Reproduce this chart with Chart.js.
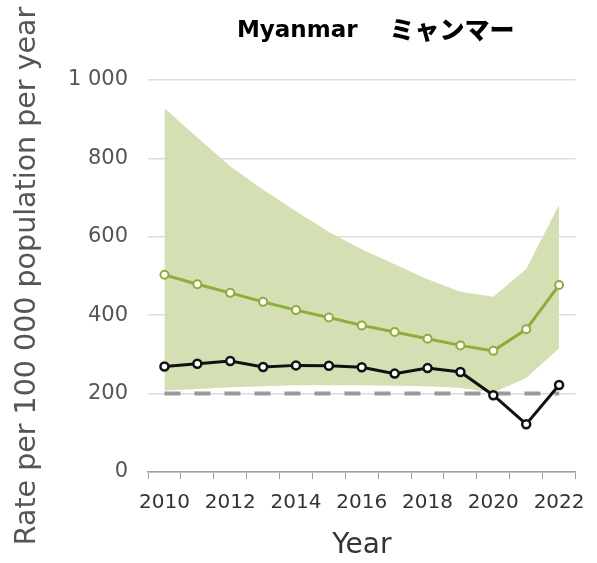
<!DOCTYPE html>
<html lang="en">
<head>
  <meta charset="UTF-8" />
  <title>Myanmar</title>
  <script src="https://cdn.jsdelivr.net/npm/chart.js"></script>
  <style>
    body {
      margin: 0;
      padding: 0;
      background: #ffffff;
    }
    #wrap {
      width: 597px;
      height: 563px;
    }
  </style>
</head>
<body>
  <div id="wrap"><canvas id="tbChart" width="597" height="563"></canvas></div>

<script>
  // data
  const years = ['2010', '2011', '2012', '2013', '2014', '2015', '2016',
                 '2017', '2018', '2019', '2020', '2021', '2022'];
  const incidence = [503, 479, 457, 434, 413, 394, 374, 357, 340, 323, 309, 364, 477];
  const incidenceHigh = [928, 853, 780, 720, 665, 612, 568, 530, 492, 460, 447, 518, 682];
  const incidenceLow = [208, 212, 216, 219, 221, 221, 221, 220, 219, 214, 203, 240, 316];
  const notified = [269, 276, 283, 268, 272, 271, 267, 251, 265, 255, 196, 122, 222];
  const referenceLevel = [200, 200, 200, 200, 200, 200, 200, 200, 200, 200, 200, 200, 200];
  const yTicks = [0, 200, 400, 600, 800, 1000];

  const titleLatin = 'Myanmar';
  const titleJapanese = 'ミャンマー';

  const green = '#8cae3c';
  const band = '#d4dfb3';
  const font = "'DejaVu Sans', 'Noto Sans', sans-serif";

  function spaced(v) {
    return String(v).replace(/\B(?=(\d{3})+(?!\d))/g, ' ');
  }

  // title drawn above the plot area
  const titlePlugin = {
    id: 'twoPartTitle',
    afterDraw(chart) {
      const c = chart.ctx;
      const area = chart.chartArea;
      c.save();
      c.fillStyle = '#000';
      c.textBaseline = 'alphabetic';
      c.font = "bold 23px 'DejaVu Sans', sans-serif";
      const w1 = c.measureText(titleLatin).width;
      c.font = "900 25px 'Noto Sans CJK JP', sans-serif";
      const w2 = c.measureText(titleJapanese).width;
      const gap = 32;
      const total = w1 + gap + w2;
      const x0 = (area.left + area.right) / 2 + 14 - total / 2;
      c.font = "bold 23px 'DejaVu Sans', sans-serif";
      c.fillText(titleLatin, x0, 37);
      c.font = "900 25px 'Noto Sans CJK JP', sans-serif";
      c.fillText(titleJapanese, x0 + w1 + gap, 39);
      c.restore();
    }
  };

  const ctx = document.getElementById('tbChart').getContext('2d');

  const chart = new Chart(ctx, {
    type: 'line',
    data: {
      labels: years,
      datasets: [{
        label: 'Notified',
        data: notified,
        borderColor: '#111111',
        borderWidth: 3,
        pointRadius: 4,
        pointBorderWidth: 2.5,
        pointBackgroundColor: '#ffffff',
        pointBorderColor: '#111111',
        fill: false
      }, {
        label: 'Incidence',
        data: incidence,
        borderColor: green,
        borderWidth: 3,
        pointRadius: 4,
        pointBorderWidth: 2,
        pointBackgroundColor: '#ffffff',
        pointBorderColor: green,
        fill: false
      }, {
        label: 'Reference',
        data: referenceLevel,
        borderColor: '#9a9a9a',
        borderWidth: 4,
        borderDash: [16, 14],
        pointRadius: 0,
        fill: false
      }, {
        label: 'High',
        data: incidenceHigh,
        borderWidth: 0,
        borderColor: 'rgba(0,0,0,0)',
        backgroundColor: band,
        pointRadius: 0,
        fill: '+1'
      }, {
        label: 'Low',
        data: incidenceLow,
        borderWidth: 0,
        borderColor: 'rgba(0,0,0,0)',
        pointRadius: 0,
        fill: false
      }]
    },
    options: {
      responsive: false,
      animation: false,
      layout: {
        padding: { top: 80, right: 12, left: 0, bottom: 0 }
      },
      plugins: {
        legend: { display: false },
        tooltip: { enabled: false },
        title: { display: false }
      },
      scales: {
        x: {
          type: 'category',
          offset: true,
          grid: {
            display: true,
            offset: true,
            drawOnChartArea: false,
            drawTicks: true,
            tickLength: 7,
            color: '#a0a0a0',
            lineWidth: 1
          },
          border: { display: true, color: '#a0a0a0', width: 1.5 },
          ticks: {
            autoSkip: false,
            maxRotation: 0,
            padding: 12,
            color: '#333333',
            font: { family: font, size: 20 },
            callback: function (val, i) {
              return i % 2 === 0 ? this.getLabelForValue(val) : '';
            }
          },
          title: {
            display: true,
            text: 'Year',
            color: '#333333',
            font: { family: font, size: 28 },
            padding: { top: 0, bottom: 0 }
          },
          afterFit: function (scale) { scale.height = 91; }
        },
        y: {
          min: 0,
          max: 1000,
          afterBuildTicks: function (scale) {
            scale.ticks = yTicks.map(v => ({ value: v }));
          },
          grid: {
            color: '#dcdcdc',
            lineWidth: 1.5,
            drawTicks: false
          },
          border: { display: false },
          ticks: {
            padding: 20,
            color: '#555555',
            font: { family: font, size: 21 },
            callback: v => spaced(v)
          },
          title: {
            display: true,
            text: 'Rate per 100 000 population per year',
            color: '#555555',
            font: { family: font, size: 28.5 },
            padding: { top: 10, bottom: 10 }
          },
          afterFit: function (scale) { scale.width = 148; }
        }
      }
    },
    plugins: [titlePlugin]
  });
</script>
</body>
</html>
